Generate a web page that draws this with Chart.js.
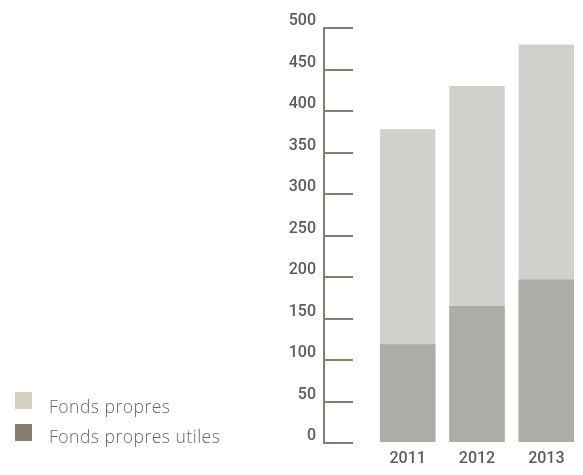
<!DOCTYPE html>
<html>
<head>
<meta charset="utf-8">
<script src="https://cdn.jsdelivr.net/npm/chart.js@4"></script>
<style>
  body { margin: 0; background: #fff; }
  #wrap { position: relative; width: 583px; height: 475px; }
  .carre { position: absolute; left: 15px; width: 17px; height: 17px; }
  .texte { position: absolute; left: 49px; font-family: "Open Sans", Lato, sans-serif; font-weight: 300; font-size: 17.5px; letter-spacing: 0.5px; line-height: 18px; color: #666; white-space: nowrap; }
</style>
</head>
<body>
<div id="wrap">
  <canvas id="GraficoFonds" width="583" height="475"></canvas>
  <div class="carre" style="top:392px; background:#d5d0bf"></div>
  <div class="texte" style="top:397px">Fonds propres</div>
  <div class="carre" style="top:424px; background:#857d70"></div>
  <div class="texte" style="top:426.5px">Fonds propres utiles</div>
</div>
<script>
const annees = ['2011', '2012', '2013'];
const fondsPropres = [378, 430, 480];
const fondsPropresUtiles = [119, 165, 197];
const yMax = 500;
const yPas = 50;

const graficoFonds = () => {

    const data = {
        labels: annees,
        datasets: [
            {
                label: 'Fonds propres utiles',
                data: fondsPropresUtiles,
                backgroundColor: "rgb(173, 172, 166)",
                order: 1,
            },
            {
                label: 'Fonds propres',
                data: fondsPropres,
                backgroundColor: "rgb(209, 208, 204)",
                order: 2,
            }
        ]
    };

    const config = {
        type: 'bar',
        data: data,
        options: {
            responsive: false,
            animation: false,
            categoryPercentage: 1,
            barPercentage: 0.8,
            layout: {
                padding: { top: 28, right: 2, bottom: 0, left: 0 }
            },
            plugins: {
                legend: { display: false },
                tooltip: { enabled: false }
            },
            scales: {
                x: {
                    stacked: true,
                    grid: { display: false, drawTicks: false },
                    border: { display: false },
                    ticks: {
                        padding: 6,
                        color: '#5b5b5b',
                        font: { family: 'Roboto', size: 16, weight: '500' }
                    },
                    afterFit: (s) => { s.height = 32; }
                },
                y: {
                    position: 'left',
                    weight: 2,
                    min: 0,
                    max: yMax,
                    grid: {
                        drawOnChartArea: false,
                        tickLength: -29,
                        color: '#857d70',
                        lineWidth: 2
                    },
                    border: { color: '#857d70', width: 2 },
                    ticks: {
                        stepSize: yPas,
                        padding: 37,
                        labelOffset: -7,
                        color: '#5b5b5b',
                        font: { family: 'Roboto', size: 16, weight: '500' }
                    },
                    afterFit: (s) => {
                        s.width = 324;
                        // la marge des étiquettes ne doit pas réduire la zone du graphique
                        s.paddingTop = 0;
                        s.paddingBottom = 0;
                    }
                },
                ecart: {
                    type: 'linear',
                    position: 'left',
                    weight: 0,
                    grid: { display: false },
                    border: { display: false },
                    ticks: { display: false },
                    afterFit: (s) => { s.width = 49; }
                }
            }
        }
    };

    const myChart = new Chart(
        document.getElementById('GraficoFonds'),
        config
    );

};

graficoFonds();
</script>
</body>
</html>
